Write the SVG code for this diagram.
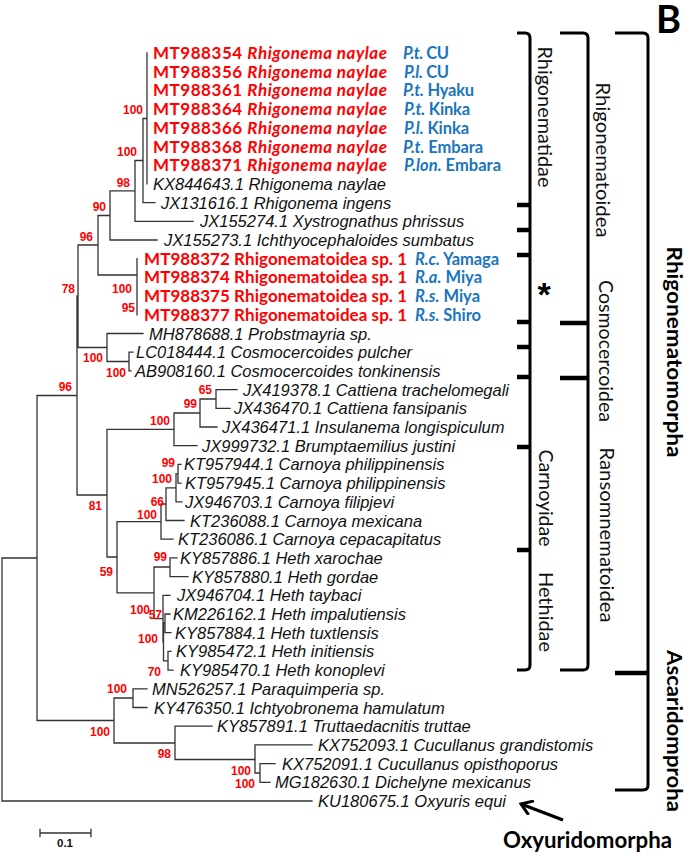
<svg xmlns="http://www.w3.org/2000/svg" width="685" height="853" viewBox="0 0 685 853">
<style>
.br{fill:none;stroke:#333;stroke-width:1.3;stroke-linecap:square}
.lf{font-family:"Liberation Sans",Arial,sans-serif;font-style:italic;font-size:16.5px;fill:#111}
.rd{font-family:Lato,"Liberation Sans",sans-serif;font-weight:bold;font-size:17px;fill:#ff0000}
.bl{font-family:Lato,"Liberation Sans",sans-serif;font-weight:bold;font-size:16.5px;fill:#1b75bc}
.it{font-style:italic}
.bs{font-family:"Liberation Sans",Arial,sans-serif;font-weight:bold;font-size:12px;fill:#ff0000;text-anchor:end}
.bk{fill:none;stroke:#000;stroke-width:3;stroke-linejoin:round}
.tk{fill:none;stroke:#000;stroke-width:4.5}
.cl{font-family:Lato,"Liberation Sans",sans-serif;font-size:20px;fill:#111;text-anchor:middle}
.cb{font-family:Lato,"Liberation Sans",sans-serif;font-weight:bold;font-size:21px;fill:#000;text-anchor:middle}
</style>
<defs>
<marker id="openArrow" viewBox="0 0 16 16" refX="2" refY="8" markerWidth="16" markerHeight="16" markerUnits="userSpaceOnUse" orient="auto">
<path d="M13,0.5 L2,8 L13,15.5" fill="none" stroke="#000" stroke-width="3"/>
</marker>
</defs>
<rect width="685" height="853" fill="#fff"/>

<g id="connectors">
<path class="br" d="M2,558 V801 M2,558 H37 M2,801 H312
M37,395.5 V720.5 M37,395.5 H77 M37,720.5 H114
M77,296 V495 M77,296 H78 M77,495 H107
M78,245 V347.5 M78,245 H98 M78,347.5 H107
M98,215.5 V275 M98,215.5 H110 M98,275 H137
M110,190.9 V240 M110,190.9 H135 M110,240 H157
M135,160.5 V221.3 M135,160.5 H143 M135,221.3 H193
M143,118.5 V202.6 M143,118.5 H147 M143,202.6 H155
M147,53 V183.9
M137,258.7 V314.8
M107,333.5 V361.5 M107,333.5 H143 M107,361.5 H129
M129,352.2 V370.9 M129,352.2 H133 M129,370.9 H131
M107,429.4 V557 M107,429.4 H174 M107,557 H117
M174,413 V445.7 M174,413 H200 M174,445.7 H197
M200,399 V427 M200,399 H216 M200,427 H217
M216,389.6 V408.3 M216,389.6 H237 M216,408.3 H230
M117,521.6 V592.8 M117,521.6 H161 M117,592.8 H154
M161,504 V539.2 M161,504 H166 M161,539.2 H173
M166,487.8 V520.5 M166,487.8 H176 M166,520.5 H184
M176,473.8 V501.8 M176,473.8 H178 M176,501.8 H182
M178,464.4 V483.1 M178,464.4 H181 M178,483.1 H181
M154,567 V618.6 M154,567 H170 M154,618.6 H163
M170,557.9 V576.6 M170,557.9 H177 M170,576.6 H188
M163,595.3 V642 M163,595.3 H170 M163,642 H163.5
M163.5,623 V660.8 M163.5,623 H165 M163.5,660.8 H168
M165,614 V632.7 M165,614 H170 M165,632.7 H171
M168,651.4 V670.1 M168,651.4 H171 M168,670.1 H173
M114,698 V743 M114,698 H133 M114,743 H175
M133,688.8 V707.5 M133,688.8 H147 M133,707.5 H147
M175,726.2 V759.5 M175,726.2 H212 M175,759.5 H255
M255,744.9 V773 M255,744.9 H312 M255,773 H260
M260,763.6 V782.3 M260,763.6 H275 M260,782.3 H270"/>
<path d="M521,804 L563,820" fill="none" stroke="#000" stroke-width="3" marker-start="url(#openArrow)"/>
</g>

<g id="scale-bar">
<path class="br" stroke-width="1.5" d="M40,833 H91 M40,829.5 V836.5 M91,829.5 V836.5"/>
<text x="65" y="847" text-anchor="middle" font-family="Liberation Sans,Arial,sans-serif" font-weight="bold" font-size="11.5" fill="#111">0.1</text>
</g>

<g id="leaves">
<g id="n1"><text class="rd" x="153" y="59" textLength="234" lengthAdjust="spacing">MT988354 <tspan class="it">Rhigonema naylae</tspan></text><text class="bl" x="403" y="59" textLength="46" lengthAdjust="spacing"><tspan class="it">P.t.</tspan> CU</text></g>
<g id="n2"><text class="rd" x="153" y="77.7" textLength="234" lengthAdjust="spacing">MT988356 <tspan class="it">Rhigonema naylae</tspan></text><text class="bl" x="404" y="77.7" textLength="45" lengthAdjust="spacing"><tspan class="it">P.l.</tspan> CU</text></g>
<g id="n3"><text class="rd" x="153" y="96.4" textLength="234" lengthAdjust="spacing">MT988361 <tspan class="it">Rhigonema naylae</tspan></text><text class="bl" x="403" y="96.4" textLength="71" lengthAdjust="spacing"><tspan class="it">P.t.</tspan> Hyaku</text></g>
<g id="n4"><text class="rd" x="153" y="115.1" textLength="234" lengthAdjust="spacing">MT988364 <tspan class="it">Rhigonema naylae</tspan></text><text class="bl" x="404" y="115.1" textLength="66" lengthAdjust="spacing"><tspan class="it">P.t.</tspan> Kinka</text></g>
<g id="n5"><text class="rd" x="153" y="133.8" textLength="234" lengthAdjust="spacing">MT988366 <tspan class="it">Rhigonema naylae</tspan></text><text class="bl" x="404" y="133.8" textLength="65" lengthAdjust="spacing"><tspan class="it">P.l.</tspan> Kinka</text></g>
<g id="n6"><text class="rd" x="153" y="152.5" textLength="234" lengthAdjust="spacing">MT988368 <tspan class="it">Rhigonema naylae</tspan></text><text class="bl" x="403" y="152.5" textLength="80" lengthAdjust="spacing"><tspan class="it">P.t.</tspan> Embara</text></g>
<g id="n7"><text class="rd" x="153" y="171.2" textLength="234" lengthAdjust="spacing">MT988371 <tspan class="it">Rhigonema naylae</tspan></text><text class="bl" x="404" y="171.2" textLength="97" lengthAdjust="spacing"><tspan class="it">P.lon.</tspan> Embara</text></g>
<g id="n8"><text class="lf" x="153" y="189.9">KX844643.1 Rhigonema naylae</text></g>
<g id="n9"><text class="lf" x="161" y="208.6">JX131616.1 Rhigonema ingens</text></g>
<g id="n10"><text class="lf" x="200" y="227.3">JX155274.1 Xystrognathus phrissus</text></g>
<g id="n11"><text class="lf" x="164" y="246">JX155273.1 Ichthyocephaloides sumbatus</text></g>
<g id="n12"><text class="rd" x="144" y="264.7" textLength="263" lengthAdjust="spacing">MT988372 Rhigonematoidea sp. 1</text><text class="bl" x="415" y="264.7" textLength="84" lengthAdjust="spacing"><tspan class="it">R.c.</tspan> Yamaga</text></g>
<g id="n13"><text class="rd" x="144" y="283.4" textLength="263" lengthAdjust="spacing">MT988374 Rhigonematoidea sp. 1</text><text class="bl" x="415" y="283.4" textLength="67" lengthAdjust="spacing"><tspan class="it">R.a.</tspan> Miya</text></g>
<g id="n14"><text class="rd" x="144" y="302.1" textLength="263" lengthAdjust="spacing">MT988375 Rhigonematoidea sp. 1</text><text class="bl" x="415" y="302.1" textLength="65" lengthAdjust="spacing"><tspan class="it">R.s.</tspan> Miya</text></g>
<g id="n15"><text class="rd" x="144" y="320.8" textLength="263" lengthAdjust="spacing">MT988377 Rhigonematoidea sp. 1</text><text class="bl" x="415" y="320.8" textLength="66" lengthAdjust="spacing"><tspan class="it">R.s.</tspan> Shiro</text></g>
<g id="n16"><text class="lf" x="149" y="339.5">MH878688.1 Probstmayria sp.</text></g>
<g id="n17"><text class="lf" x="136" y="358.2">LC018444.1 Cosmocercoides pulcher</text></g>
<g id="n18"><text class="lf" x="135" y="376.9">AB908160.1 Cosmocercoides tonkinensis</text></g>
<g id="n19"><text class="lf" x="243" y="395.6">JX419378.1 Cattiena trachelomegali</text></g>
<g id="n20"><text class="lf" x="234" y="414.3">JX436470.1 Cattiena fansipanis</text></g>
<g id="n21"><text class="lf" x="222" y="433">JX436471.1 Insulanema longispiculum</text></g>
<g id="n22"><text class="lf" x="202" y="451.7">JX999732.1 Brumptaemilius justini</text></g>
<g id="n23"><text class="lf" x="184" y="470.4">KT957944.1 Carnoya philippinensis</text></g>
<g id="n24"><text class="lf" x="185" y="489.1">KT957945.1 Carnoya philippinensis</text></g>
<g id="n25"><text class="lf" x="185" y="507.8">JX946703.1 Carnoya filipjevi</text></g>
<g id="n26"><text class="lf" x="190" y="526.5">KT236088.1 Carnoya mexicana</text></g>
<g id="n27"><text class="lf" x="178" y="545.2">KT236086.1 Carnoya cepacapitatus</text></g>
<g id="n28"><text class="lf" x="180" y="563.9">KY857886.1 Heth xarochae</text></g>
<g id="n29"><text class="lf" x="192" y="582.6">KY857880.1 Heth gordae</text></g>
<g id="n30"><text class="lf" x="177" y="601.3">JX946704.1 Heth taybaci</text></g>
<g id="n31"><text class="lf" x="173" y="620">KM226162.1 Heth impalutiensis</text></g>
<g id="n32"><text class="lf" x="175" y="638.7">KY857884.1 Heth tuxtlensis</text></g>
<g id="n33"><text class="lf" x="176" y="657.4">KY985472.1 Heth initiensis</text></g>
<g id="n34"><text class="lf" x="180" y="676.1">KY985470.1 Heth konoplevi</text></g>
<g id="n35"><text class="lf" x="152" y="694.8">MN526257.1 Paraquimperia sp.</text></g>
<g id="n36"><text class="lf" x="154" y="713.5">KY476350.1 Ichtyobronema hamulatum</text></g>
<g id="n37"><text class="lf" x="217" y="732.2">KY857891.1 Truttaedacnitis truttae</text></g>
<g id="n38"><text class="lf" x="318" y="750.9">KX752093.1 Cucullanus grandistomis</text></g>
<g id="n39"><text class="lf" x="282" y="769.6">KX752091.1 Cucullanus opisthoporus</text></g>
<g id="n40"><text class="lf" x="275" y="788.3">MG182630.1 Dichelyne mexicanus</text></g>
<g id="n41"><text class="lf" x="318" y="807">KU180675.1 Oxyuris equi</text></g>
</g>

<g id="bootstrap">
<text class="bs" x="143" y="114.3">100</text>
<text class="bs" x="137" y="156.3">100</text>
<text class="bs" x="130" y="187.3">98</text>
<text class="bs" x="106" y="211.3">90</text>
<text class="bs" x="93" y="241.3">96</text>
<text class="bs" x="132" y="293.3">100</text>
<text class="bs" x="135" y="312.3">95</text>
<text class="bs" x="75" y="293.3">78</text>
<text class="bs" x="103" y="362.3">100</text>
<text class="bs" x="126" y="377.3">100</text>
<text class="bs" x="72" y="391.3">96</text>
<text class="bs" x="212" y="394.3">65</text>
<text class="bs" x="197" y="408.3">99</text>
<text class="bs" x="170" y="425.3">100</text>
<text class="bs" x="102" y="510.3">81</text>
<text class="bs" x="175" y="467.3">99</text>
<text class="bs" x="172" y="483.3">100</text>
<text class="bs" x="164" y="506.3">66</text>
<text class="bs" x="157" y="519.3">100</text>
<text class="bs" x="113" y="576.3">59</text>
<text class="bs" x="167" y="561.3">99</text>
<text class="bs" x="150" y="614.3">100</text>
<text class="bs" x="162" y="619.3">57</text>
<text class="bs" x="158" y="643.3">100</text>
<text class="bs" x="161" y="676.3">70</text>
<text class="bs" x="127" y="693.3">100</text>
<text class="bs" x="110" y="736.3">100</text>
<text class="bs" x="171" y="758.3">98</text>
<text class="bs" x="251" y="775.3">100</text>
<text class="bs" x="255" y="788.3">100</text>
</g>

<g id="brackets">
<path class="bk" d="M517,33 H525 Q530,33 530,38 V665 Q530,670 525,670 H517"/>
<path class="tk" d="M517,205 H530 M517,230 H530 M517,255 H530 M517,322 H530 M517,347 H530 M517,377 H530 M517,447 H530 M517,550 H530"/>
<path class="bk" d="M560,33 H583 Q588,33 588,38 V665 Q588,670 583,670 H560"/>
<path class="tk" d="M560,323 H588 M560,378 H588"/>
<path class="bk" d="M615,33 H643 Q648,33 648,38 V785 Q648,790 643,790 H615"/>
<path class="tk" d="M615,673 H648"/>
</g>

<g id="clade-labels">
<text class="cl" transform="translate(543,117) rotate(90)" y="5" textLength="141" lengthAdjust="spacingAndGlyphs">Rhigonematidae</text>
<text class="cl" transform="translate(601,160) rotate(90)" y="5" textLength="155" lengthAdjust="spacingAndGlyphs">Rhigonematoidea</text>
<text class="cl" transform="translate(604,351) rotate(90)" y="5" textLength="142" lengthAdjust="spacingAndGlyphs">Cosmocercoidea</text>
<text class="cl" transform="translate(605,535) rotate(90)" y="5" textLength="175" lengthAdjust="spacingAndGlyphs">Ransomnematoidea</text>
<text class="cl" transform="translate(544,498) rotate(90)" y="5" textLength="97" lengthAdjust="spacingAndGlyphs">Carnoyidae</text>
<text class="cl" transform="translate(544,612) rotate(90)" y="5" textLength="80" lengthAdjust="spacingAndGlyphs">Hethidae</text>
<text class="cb" transform="translate(672,352) rotate(90)" y="5.5" textLength="211" lengthAdjust="spacingAndGlyphs">Rhigonematomorpha</text>
<text class="cb" transform="translate(672,731) rotate(90)" y="5.5" textLength="162" lengthAdjust="spacingAndGlyphs">Ascaridomproha</text>
<text x="544" y="306" text-anchor="middle" font-family="Liberation Sans,Arial,sans-serif" font-weight="bold" font-size="34" fill="#000">*</text>
<text x="656" y="33" font-family="Lato,Liberation Sans,sans-serif" font-weight="bold" font-size="38" fill="#000">B</text>
<text x="503" y="848" font-family="Lato,Liberation Sans,sans-serif" font-weight="bold" font-size="22" fill="#000" textLength="169" lengthAdjust="spacingAndGlyphs">Oxyuridomorpha</text>
</g>
</svg>
